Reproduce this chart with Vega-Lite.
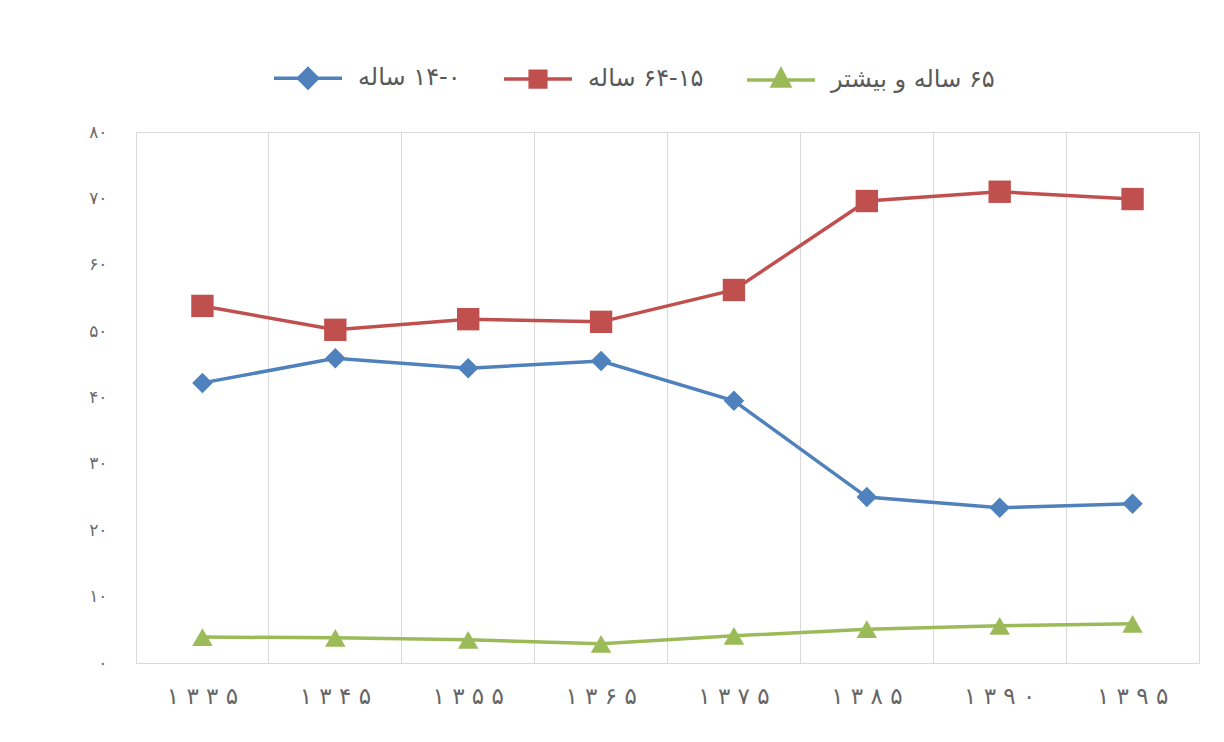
{
  "$schema": "https://vega.github.io/schema/vega-lite/v6.json",
  "width": 1063,
  "height": 531,
  "autosize": "none",
  "padding": {"left": 136, "top": 132, "right": 25, "bottom": 79},
  "background": "white",
  "config": {
    "view": {"stroke": "#d9d9d9", "strokeWidth": 1},
    "font": "DejaVu Sans",
    "legend": {
      "orient": "none",
      "legendX": 136,
      "legendY": -90,
      "direction": "horizontal",
      "symbolSize": 4624,
      "symbolStrokeWidth": 3.5,
      "symbolOpacity": 1,
      "labelFontSize": 24,
      "labelColor": "#595959",
      "labelFont": "DejaVu Sans",
      "labelOffset": 14,
      "labelLimit": 400,
      "columnPadding": 36,
      "padding": 0
    }
  },
  "data": {
    "values": [
      {"year": "۱ ۳ ۳ ۵", "series": "a", "value": 42.2},
      {"year": "۱ ۳ ۴ ۵", "series": "a", "value": 45.9},
      {"year": "۱ ۳ ۵ ۵", "series": "a", "value": 44.4},
      {"year": "۱ ۳ ۶ ۵", "series": "a", "value": 45.5},
      {"year": "۱ ۳ ۷ ۵", "series": "a", "value": 39.5},
      {"year": "۱ ۳ ۸ ۵", "series": "a", "value": 25.0},
      {"year": "۱ ۳ ۹ ۰", "series": "a", "value": 23.4},
      {"year": "۱ ۳ ۹ ۵", "series": "a", "value": 24.0},
      {"year": "۱ ۳ ۳ ۵", "series": "b", "value": 53.8},
      {"year": "۱ ۳ ۴ ۵", "series": "b", "value": 50.2},
      {"year": "۱ ۳ ۵ ۵", "series": "b", "value": 51.8},
      {"year": "۱ ۳ ۶ ۵", "series": "b", "value": 51.4},
      {"year": "۱ ۳ ۷ ۵", "series": "b", "value": 56.2},
      {"year": "۱ ۳ ۸ ۵", "series": "b", "value": 69.6},
      {"year": "۱ ۳ ۹ ۰", "series": "b", "value": 71.0},
      {"year": "۱ ۳ ۹ ۵", "series": "b", "value": 69.9},
      {"year": "۱ ۳ ۳ ۵", "series": "c", "value": 3.9},
      {"year": "۱ ۳ ۴ ۵", "series": "c", "value": 3.8},
      {"year": "۱ ۳ ۵ ۵", "series": "c", "value": 3.5},
      {"year": "۱ ۳ ۶ ۵", "series": "c", "value": 2.9},
      {"year": "۱ ۳ ۷ ۵", "series": "c", "value": 4.1},
      {"year": "۱ ۳ ۸ ۵", "series": "c", "value": 5.1},
      {"year": "۱ ۳ ۹ ۰", "series": "c", "value": 5.6},
      {"year": "۱ ۳ ۹ ۵", "series": "c", "value": 5.9}
    ]
  },
  "encoding": {
    "x": {
      "field": "year",
      "type": "ordinal",
      "sort": null,
      "bandPosition": 0.5,
      "scale": {"type": "band", "paddingInner": 0, "paddingOuter": 0},
      "axis": {
        "title": null,
        "bandPosition": 0,
        "grid": true,
        "gridColor": "#d9d9d9",
        "gridWidth": 1,
        "ticks": false,
        "domain": false,
        "labelAngle": 0,
        "labelFontSize": 23,
        "labelColor": "#666666",
        "labelPadding": 22,
        "labelFont": "DejaVu Sans"
      }
    },
    "y": {
      "field": "value",
      "type": "quantitative",
      "scale": {"domain": [0, 80], "nice": false},
      "axis": {
        "title": null,
        "values": [0, 10, 20, 30, 40, 50, 60, 70, 80],
        "grid": false,
        "ticks": false,
        "domain": false,
        "labelFontSize": 17,
        "labelColor": "#6b6b6b",
        "labelPadding": 29,
        "labelFont": "DejaVu Sans",
        "labelExpr": "['۰','۱۰','۲۰','۳۰','۴۰','۵۰','۶۰','۷۰','۸۰'][datum.value/10]"
      }
    }
  },
  "layer": [
    {
      "mark": {"type": "point", "filled": true, "size": 0},
      "encoding": {
        "shape": {
          "field": "series",
          "type": "nominal",
          "scale": {
            "domain": ["a", "b", "c"],
            "range": [
              "M-1,0H1M0,-0.28L0.28,0L0,0.28L-0.28,0Z",
              "M-1,0H1M-0.23,-0.23H0.23V0.23H-0.23Z",
              "M-1,0H1M0,-0.3L0.25,0.18L-0.25,0.18Z"
            ]
          },
          "legend": {
            "title": null,
            "labelExpr": "datum.value === 'a' ? '\u202aساله\u200e ۱۴-۰\u202c' : datum.value === 'b' ? '\u202aساله\u200e ۶۴-۱۵\u202c' : '\u202aساله و بیشتر\u200e ۶۵\u202c'"
          }
        },
        "fill": {
          "field": "series",
          "type": "nominal",
          "scale": {"domain": ["a", "b", "c"], "range": ["#4F81BD", "#C0504D", "#9BBB59"]},
          "legend": {
            "title": null,
            "labelExpr": "datum.value === 'a' ? '\u202aساله\u200e ۱۴-۰\u202c' : datum.value === 'b' ? '\u202aساله\u200e ۶۴-۱۵\u202c' : '\u202aساله و بیشتر\u200e ۶۵\u202c'"
          }
        },
        "stroke": {
          "field": "series",
          "type": "nominal",
          "scale": {"domain": ["a", "b", "c"], "range": ["#4F81BD", "#C0504D", "#9BBB59"]},
          "legend": {
            "title": null,
            "labelExpr": "datum.value === 'a' ? '\u202aساله\u200e ۱۴-۰\u202c' : datum.value === 'b' ? '\u202aساله\u200e ۶۴-۱۵\u202c' : '\u202aساله و بیشتر\u200e ۶۵\u202c'"
          }
        }
      }
    },
    {
      "mark": {"type": "line", "strokeWidth": 3.5},
      "encoding": {
        "color": {
          "field": "series",
          "type": "nominal",
          "scale": {"domain": ["a", "b", "c"], "range": ["#4F81BD", "#C0504D", "#9BBB59"]},
          "legend": null
        }
      }
    },
    {
      "transform": [{"filter": "datum.series === 'a'"}],
      "mark": {"type": "point", "shape": "diamond", "filled": true, "size": 420, "color": "#4F81BD", "opacity": 1}
    },
    {
      "transform": [{"filter": "datum.series === 'b'"}],
      "mark": {"type": "point", "shape": "square", "filled": true, "size": 500, "color": "#C0504D", "opacity": 1}
    },
    {
      "transform": [{"filter": "datum.series === 'c'"}],
      "mark": {"type": "point", "shape": "triangle-up", "filled": true, "size": 420, "color": "#9BBB59", "opacity": 1}
    }
  ]
}
